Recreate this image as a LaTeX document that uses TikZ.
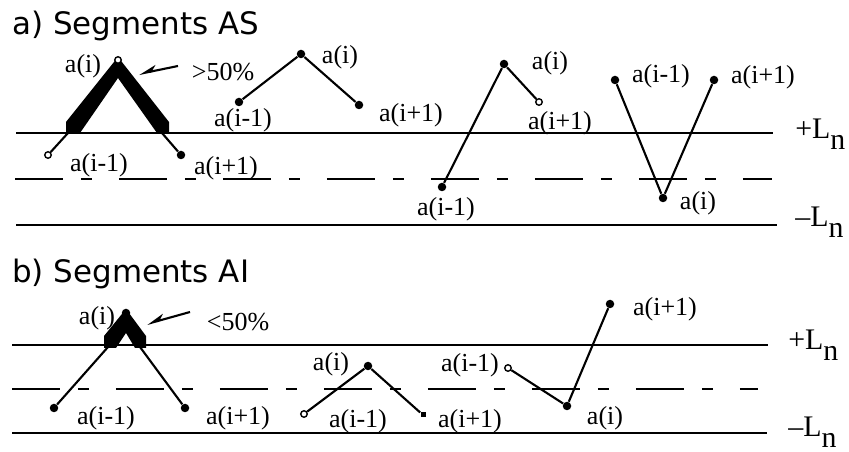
\documentclass[tikz,border=0pt]{standalone}
\usepackage{fontspec}
\setmainfont{Liberation Serif}
\newfontfamily\headfont{DejaVu Sans}
\usepackage{tikz}
\usetikzlibrary{calc,positioning,arrows.meta}
\tikzset{
    level/.style={line width=1.5pt},
    midlevel/.style={line width=1.5pt, dash pattern=on 0.96cm off 0.36cm on 0.22cm off 0.54cm},
    seg/.style={line width=1.2pt},
    band/.style={fill=black},
    dot/.style={circle, fill, inner sep=0pt, minimum size=0.17cm},
    odot/.style={circle, draw, fill=white, line width=0.8pt, inner sep=0pt, minimum size=0.13cm},
    sqdot/.style={rectangle, fill, inner sep=0pt, minimum size=0.1cm},
    lbl/.style={inner sep=0pt, font=\fontsize{14.8}{16}\selectfont},
    levlbl/.style={inner sep=0pt, anchor=base west, font=\fontsize{17}{19}\selectfont},
    heading/.style={inner sep=0pt, anchor=base west, font=\headfont\fontsize{17.6}{20}\selectfont},
    pointer/.style={line width=1.2pt, -{Stealth[right, length=0.3cm, width=0.22cm]}}
}
\newcommand{\levname}[1]{#1L\raisebox{-0.21cm}{n}}

\begin{document}
\begin{tikzpicture}[x=0.02cm, y=-0.02cm]
        \useasboundingbox (0,0) rectangle (849,452);

        \node[heading] (ta) at (12,35) {a) Segments AS};
        \coordinate (upa0) at (16,133);
        \coordinate (upa1) at (773,133);
        \coordinate (mida0) at (15,179);
        \coordinate (mida1) at (772,179);
        \coordinate (loa0) at (16,225);
        \coordinate (loa1) at (777,225);
        \draw[level] (upa0) -- (upa1);
        \draw[midlevel] (mida0) -- (mida1);
        \draw[level] (loa0) -- (loa1);
        \node[levlbl] (lupa) at (795,139) {\levname{+}};
        \node[levlbl] (lloa) at (795,227) {\levname{\textendash}};

        \fill[band] (118,57) -- (66,122) -- (66,133) -- (80,133) -- (118,78)
            -- (157,133) -- (169,133) -- (169,122) -- cycle;
        \coordinate (a1l) at (68,133);
        \coordinate (a1r) at (162,133);
        \node[odot] (a1m) at (48,155) {};
        \node[odot] (a1c) at (118,60) {};
        \node[dot] (a1p) at (181,155) {};
        \draw[seg] (a1m) -- (a1l);
        \draw[seg] (a1r) -- (a1p);
        \node[lbl] (la1c) at (83,66) {a(i)};
        \node[lbl] (la1m) at (99,165) {a(i-1)};
        \node[lbl] (la1p) at (226,168) {a(i+1)};
        \node[lbl] (gta) at (223,72) {>50\%};
        \coordinate (pa0) at (178,66);
        \coordinate (pa1) at (139,74);
        \draw[pointer] (pa0) -- (pa1);

        \node[dot] (a2m) at (239,102) {};
        \node[dot] (a2c) at (301,54) {};
        \node[dot] (a2p) at (359,105) {};
        \draw[seg] (a2m) -- (a2c) -- (a2p);
        \node[lbl] (la2c) at (340,57) {a(i)};
        \node[lbl] (la2m) at (243,120) {a(i-1)};
        \node[lbl] (la2p) at (411,115) {a(i+1)};

        \node[dot] (a3m) at (442,187) {};
        \node[dot] (a3c) at (504,64) {};
        \node[odot] (a3p) at (539,102) {};
        \draw[seg] (a3m) -- (a3c) -- (a3p);
        \node[lbl] (la3m) at (446,209) {a(i-1)};
        \node[lbl] (la3c) at (550,63) {a(i)};
        \node[lbl] (la3p) at (560,123) {a(i+1)};

        \node[dot] (a4m) at (615,80) {};
        \node[dot] (a4c) at (663,198) {};
        \node[dot] (a4p) at (714,80) {};
        \draw[seg] (a4m) -- (a4c) -- (a4p);
        \node[lbl] (la4m) at (661,76) {a(i-1)};
        \node[lbl] (la4p) at (763,77) {a(i+1)};
        \node[lbl] (la4c) at (698,203) {a(i)};

        \node[heading] (tb) at (12,283) {b) Segments AI};
        \coordinate (upb0) at (12,345);
        \coordinate (upb1) at (768,345);
        \coordinate (midb0) at (12,389);
        \coordinate (midb1) at (758,389);
        \coordinate (lob0) at (12,433);
        \coordinate (lob1) at (767,433);
        \draw[level] (upb0) -- (upb1);
        \draw[midlevel] (midb0) -- (midb1);
        \draw[level] (lob0) -- (lob1);
        \node[levlbl] (lupb) at (788,350) {\levname{+}};
        \node[levlbl] (llob) at (788,437) {\levname{\textendash}};

        \fill[band] (126,309) -- (104,336) -- (104,348) -- (116,348) -- (126,333)
            -- (135,348) -- (146,348) -- (146,336) -- cycle;
        \coordinate (b1l) at (108,347);
        \coordinate (b1r) at (140,347);
        \node[dot] (b1m) at (54,408) {};
        \node[dot] (b1c) at (126,313) {};
        \node[dot] (b1p) at (185,408) {};
        \draw[seg] (b1m) -- (b1l);
        \draw[seg] (b1r) -- (b1p);
        \node[lbl] (lb1c) at (97,318) {a(i)};
        \node[lbl] (lb1m) at (106,418) {a(i-1)};
        \node[lbl] (lb1p) at (238,418) {a(i+1)};
        \node[lbl] (ltb) at (238,322) {<50\%};
        \coordinate (pb0) at (190,312);
        \coordinate (pb1) at (147,324);
        \draw[pointer] (pb0) -- (pb1);

        \node[odot] (b2m) at (304,414) {};
        \node[dot] (b2c) at (368,366) {};
        \node[sqdot] (b2p) at (423,415) {};
        \draw[seg] (b2m) -- (b2c) -- (b2p);
        \node[lbl] (lb2c) at (331,364) {a(i)};
        \node[lbl] (lb2m) at (358,421) {a(i-1)};
        \node[lbl] (lb2p) at (470,421) {a(i+1)};

        \node[odot] (b3m) at (508,368) {};
        \node[dot] (b3c) at (567,406) {};
        \node[dot] (b3p) at (610,304) {};
        \draw[seg] (b3m) -- (b3c) -- (b3p);
        \node[lbl] (lb3m) at (470,365) {a(i-1)};
        \node[lbl] (lb3c) at (605,418) {a(i)};
        \node[lbl] (lb3p) at (665,309) {a(i+1)};
    \end{tikzpicture}
\end{document}
